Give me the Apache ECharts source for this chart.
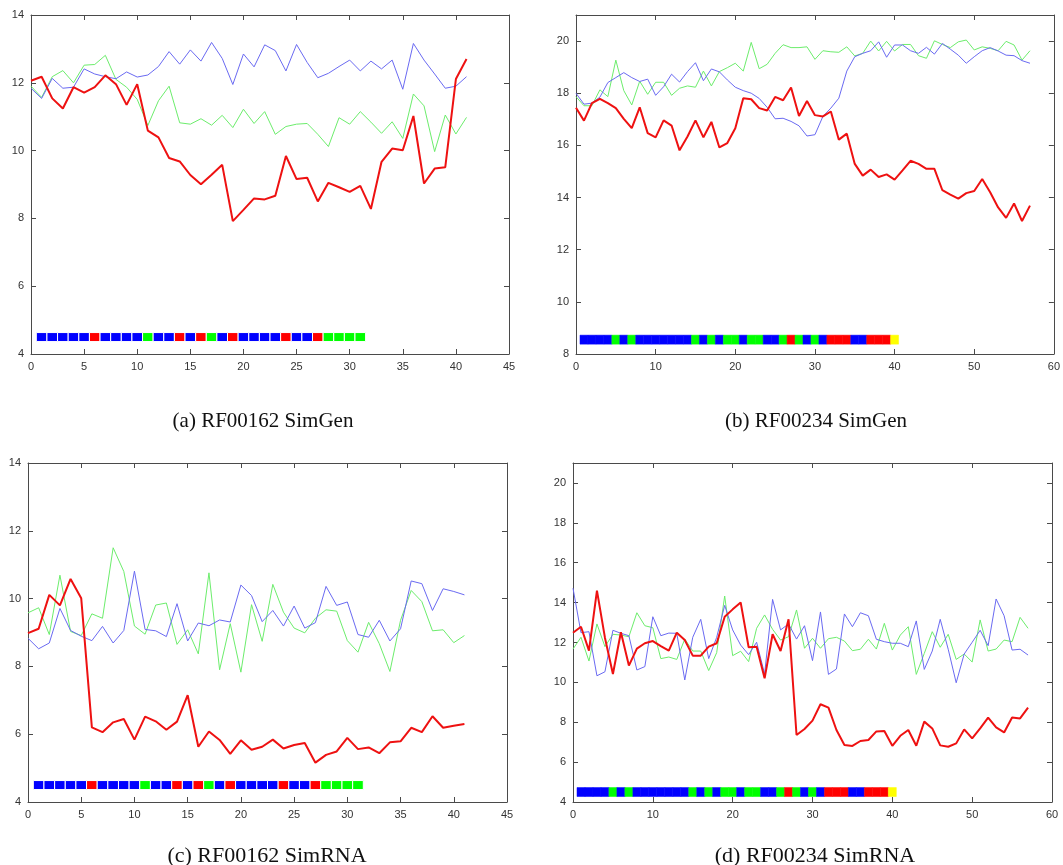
<!DOCTYPE html>
<html>
<head>
<meta charset="utf-8">
<script src="https://cdn.jsdelivr.net/npm/echarts@6/dist/echarts.min.js"></script>
<style>
  html, body { margin: 0; padding: 0; background: #fff; }
  #main { width: 1063px; height: 865px; }
</style>
</head>
<body>
<div id="main"></div>
<script>
// (a) RF00162 SimGen
const aBlue = [11.84, 11.54, 12.13, 11.84, 11.87, 12.41, 12.26, 12.18, 12.12, 12.32, 12.17, 12.23, 12.48, 12.92, 12.55, 12.97, 12.64, 13.19, 12.72, 11.95, 12.85, 12.47, 13.12, 12.95, 12.35, 13.13, 12.6, 12.15, 12.28, 12.48, 12.67, 12.35, 12.64, 12.41, 12.67, 11.81, 13.16, 12.67, 12.26, 11.84, 11.9, 12.18]
const aGreen = [11.9, 11.57, 12.18, 12.36, 12.0, 12.52, 12.54, 12.81, 12.1, 11.87, 11.51, 10.74, 11.47, 11.9, 10.82, 10.78, 10.94, 10.75, 11.04, 10.68, 11.22, 10.8, 11.15, 10.48, 10.71, 10.78, 10.8, 10.48, 10.12, 10.97, 10.78, 11.15, 10.84, 10.51, 10.85, 10.36, 11.67, 11.32, 9.97, 11.05, 10.49, 10.98]
const aRed = [12.06, 12.18, 11.54, 11.24, 11.87, 11.71, 11.87, 12.22, 11.96, 11.35, 11.96, 10.59, 10.39, 9.78, 9.68, 9.28, 9.01, 9.29, 9.58, 7.92, 8.25, 8.59, 8.56, 8.67, 9.84, 9.16, 9.2, 8.5, 9.05, 8.92, 8.78, 8.96, 8.28, 9.67, 10.06, 10.01, 11.02, 9.03, 9.47, 9.51, 12.11, 12.7]

// (b) RF00234 SimGen
const bBlue = [18.0, 17.58, 17.62, 17.85, 18.41, 18.6, 18.79, 18.6, 18.45, 18.54, 17.92, 18.25, 18.73, 18.43, 18.83, 19.17, 18.48, 18.93, 18.82, 18.51, 18.23, 18.1, 18.0, 17.8, 17.46, 17.02, 17.04, 16.92, 16.75, 16.36, 16.41, 17.11, 17.43, 17.81, 18.85, 19.4, 19.53, 19.63, 19.97, 19.38, 19.85, 19.85, 19.63, 19.53, 19.76, 19.5, 19.91, 19.69, 19.46, 19.15, 19.4, 19.63, 19.75, 19.62, 19.46, 19.44, 19.25, 19.15]
const bGreen = [17.87, 17.52, 17.52, 18.13, 17.87, 19.27, 18.1, 17.55, 18.46, 17.96, 18.42, 18.42, 17.92, 18.19, 18.28, 18.23, 18.85, 18.28, 18.83, 18.98, 19.15, 18.85, 19.95, 18.94, 19.11, 19.53, 19.86, 19.75, 19.75, 19.78, 19.3, 19.63, 19.59, 19.57, 19.78, 19.43, 19.53, 20.0, 19.62, 19.99, 19.62, 19.87, 19.87, 19.44, 19.34, 20.01, 19.87, 19.75, 19.97, 20.04, 19.66, 19.78, 19.72, 19.63, 19.99, 19.85, 19.27, 19.63]
const bRed = [17.44, 16.95, 17.62, 17.78, 17.62, 17.43, 17.02, 16.66, 17.46, 16.47, 16.31, 16.96, 16.76, 15.81, 16.34, 16.96, 16.31, 16.9, 15.92, 16.09, 16.66, 17.81, 17.77, 17.43, 17.34, 17.86, 17.73, 18.22, 17.13, 17.7, 17.16, 17.11, 17.3, 16.22, 16.45, 15.29, 14.84, 15.07, 14.79, 14.89, 14.69, 15.04, 15.41, 15.29, 15.1, 15.1, 14.28, 14.11, 13.96, 14.17, 14.25, 14.71, 14.2, 13.62, 13.22, 13.77, 13.1, 13.69]

// (c) RF00162 SimRNA
const cBlue = [8.83, 8.52, 8.69, 9.71, 9.06, 8.89, 8.76, 9.18, 8.69, 9.06, 10.81, 9.09, 9.05, 8.88, 9.85, 8.75, 9.28, 9.2, 9.37, 9.31, 10.4, 10.09, 9.32, 9.65, 9.19, 9.78, 9.13, 9.29, 10.36, 9.8, 9.9, 8.94, 8.86, 9.36, 8.75, 9.11, 10.52, 10.44, 9.65, 10.29, 10.21, 10.11]
const cGreen = [9.58, 9.73, 8.94, 10.69, 9.03, 8.91, 9.55, 9.42, 11.5, 10.8, 9.19, 8.95, 9.81, 9.87, 8.65, 9.08, 8.37, 10.76, 7.9, 9.26, 7.83, 9.82, 8.74, 10.42, 9.6, 9.13, 8.99, 9.42, 9.67, 9.63, 8.76, 8.42, 9.3, 8.67, 7.85, 9.36, 10.24, 9.91, 9.05, 9.08, 8.7, 8.91]
const cRed = [8.98, 9.11, 10.11, 9.8, 10.58, 10.01, 6.2, 6.06, 6.35, 6.45, 5.84, 6.52, 6.38, 6.13, 6.37, 7.15, 5.63, 6.08, 5.83, 5.42, 5.82, 5.54, 5.63, 5.84, 5.58, 5.68, 5.74, 5.16, 5.39, 5.49, 5.89, 5.56, 5.61, 5.44, 5.76, 5.79, 6.19, 6.06, 6.53, 6.19, 6.25, 6.3]

// (d) RF00234 SimRNA
const dBlue = [14.72, 12.49, 12.54, 10.33, 10.53, 12.61, 12.46, 12.34, 10.62, 10.79, 13.29, 12.34, 12.47, 12.46, 10.12, 12.26, 13.16, 11.19, 12.26, 13.86, 12.63, 11.87, 11.39, 12.01, 10.42, 14.16, 12.63, 12.93, 12.17, 12.84, 11.09, 13.53, 10.4, 10.67, 13.43, 12.79, 13.49, 13.34, 12.16, 12.04, 11.96, 11.96, 11.79, 13.08, 10.65, 11.57, 13.16, 11.66, 9.98, 11.42, 12.01, 12.61, 11.84, 14.18, 13.34, 11.62, 11.66, 11.37]
const dGreen = [11.67, 12.26, 11.07, 12.93, 11.79, 12.41, 12.37, 12.29, 13.49, 12.84, 12.74, 11.19, 11.27, 11.15, 12.17, 11.57, 11.57, 10.59, 11.49, 14.33, 11.34, 11.56, 11.04, 12.71, 13.38, 12.66, 12.12, 12.29, 13.63, 11.71, 12.21, 11.71, 12.19, 12.26, 12.07, 11.59, 11.66, 12.16, 11.67, 12.96, 11.62, 12.37, 12.79, 10.4, 11.45, 12.54, 11.76, 12.41, 11.15, 11.42, 11.02, 13.13, 11.57, 11.67, 12.12, 12.04, 13.26, 12.71]
const dRed = [12.49, 12.79, 11.59, 14.6, 12.24, 10.42, 12.51, 10.84, 11.69, 11.96, 12.07, 11.82, 11.59, 12.49, 12.12, 11.34, 11.34, 11.79, 11.96, 13.29, 13.66, 14.01, 11.76, 11.79, 10.2, 12.41, 11.57, 13.16, 7.36, 7.66, 8.08, 8.9, 8.73, 7.61, 6.86, 6.81, 7.06, 7.11, 7.54, 7.56, 6.82, 7.32, 7.61, 6.82, 8.03, 7.69, 6.84, 6.77, 6.94, 7.64, 7.19, 7.69, 8.23, 7.74, 7.49, 8.24, 8.19, 8.73]

// coloured strips under the curves, one cell per position starting at x = 1
const rf162Cells = ['B','B','B','B','B','R','B','B','B','B','G','B','B','R','B','R','G','B','R','B','B','B','B','R','B','B','R','G','G','G','G']
const rf234Cells = ['B','B','B','B','G','B','G','B','B','B','B','B','B','B','G','B','G','B','G','G','B','G','G','B','B','G','R','G','B','G','B','R','R','R','B','B','R','R','R','Y']

const captions = ['(a) RF00162 SimGen', '(b) RF00234 SimGen', '(c) RF00162 SimRNA', '(d) RF00234 SimRNA']

const cellColor = { B: '#0000ff', R: '#ff0000', G: '#00ff00', Y: '#ffff00' }
const BLUE = '#6a6af2', GREEN = '#6ced6c', RED = '#ee1111'

const panels = [
  { grid: { left: 31, top: 15, width: 478, height: 339 }, x: [0, 45, 5], y: [4, 14, 2], lines: [aGreen, aBlue, aRed], cells: rf162Cells, cellY: 4.5, gap: true, cap: [258, 406, 21] },
  { grid: { left: 576, top: 15, width: 478, height: 339 }, x: [0, 60, 10], y: [8, 21, 2], lines: [bGreen, bBlue, bRed], cells: rf234Cells, cellY: 8.55, gap: false, cap: [811, 406, 21] },
  { grid: { left: 28, top: 463, width: 479, height: 339 }, x: [0, 45, 5], y: [4, 14, 2], lines: [cGreen, cBlue, cRed], cells: rf162Cells, cellY: 4.5, gap: true, cap: [262, 840, 22] },
  { grid: { left: 573, top: 463, width: 479, height: 339 }, x: [0, 60, 10], y: [4, 21, 2], lines: [dGreen, dBlue, dRed], cells: rf234Cells, cellY: 4.5, gap: false, cap: [810, 840, 22] }
]

const axisLine = { show: true, onZero: false, lineStyle: { color: '#4a4a4a', width: 1 } }
const tick = { show: true, inside: true, length: 5, lineStyle: { color: '#4a4a4a' } }
const label = { color: '#333', fontSize: 11, fontFamily: 'Liberation Sans' }

const grids = [], xAxes = [], yAxes = [], series = [], titles = []

panels.forEach((p, i) => {
  grids.push(p.grid)
  ;['bottom', 'top'].forEach(pos => {
    xAxes.push({
      type: 'value', gridIndex: i, position: pos,
      min: p.x[0], max: p.x[1], interval: p.x[2],
      axisLine, axisTick: tick, splitLine: { show: false },
      axisLabel: Object.assign({ show: pos === 'bottom', margin: 7 }, label)
    })
  })
  ;['left', 'right'].forEach(pos => {
    yAxes.push({
      type: 'value', gridIndex: i, position: pos,
      min: p.y[0], max: p.y[1], interval: p.y[2],
      axisLine, axisTick: tick, splitLine: { show: false },
      axisLabel: Object.assign({ show: pos === 'left', margin: 7, showMaxLabel: p.y[1] % p.y[2] === 0 }, label)
    })
  })
  const colors = [GREEN, BLUE, RED]
  p.lines.forEach((arr, k) => {
    series.push({
      type: 'line', xAxisIndex: 2 * i, yAxisIndex: 2 * i,
      data: arr.map((v, j) => [j, v]),
      showSymbol: false, symbol: 'none', z: 3 + k,
      lineStyle: { color: colors[k], width: k === 2 ? 2 : 1 },
      animation: false
    })
  })
  series.push({
    type: 'custom', xAxisIndex: 2 * i, yAxisIndex: 2 * i,
    data: p.cells.map((c, j) => [j + 1, p.cellY, c]),
    z: 2, animation: false,
    renderItem: (params, api) => {
      const c = api.coord([api.value(0), api.value(1)])
      const w = api.size([1, 0])[0]
      const h = 9
      const col = cellColor[p.cells[params.dataIndex]]
      return {
        type: 'rect',
        shape: { x: c[0] - w / 2, y: c[1] - h / 2, width: w, height: h },
        style: p.gap ? { fill: col, stroke: '#ffffff', lineWidth: 1 } : { fill: col, stroke: col, lineWidth: 0.5 }
      }
    }
  })
  titles.push({
    text: captions[i], left: p.cap[0], top: p.cap[1], textAlign: 'center',
    textStyle: { fontFamily: 'Liberation Serif', fontSize: p.cap[2], fontWeight: 'normal', color: '#111' }
  })
})

const chart = echarts.init(document.getElementById('main'), null, { renderer: 'canvas' })
chart.setOption({
  backgroundColor: '#ffffff',
  animation: false,
  title: titles,
  grid: grids,
  xAxis: xAxes,
  yAxis: yAxes,
  series
})
</script>
</body>
</html>
